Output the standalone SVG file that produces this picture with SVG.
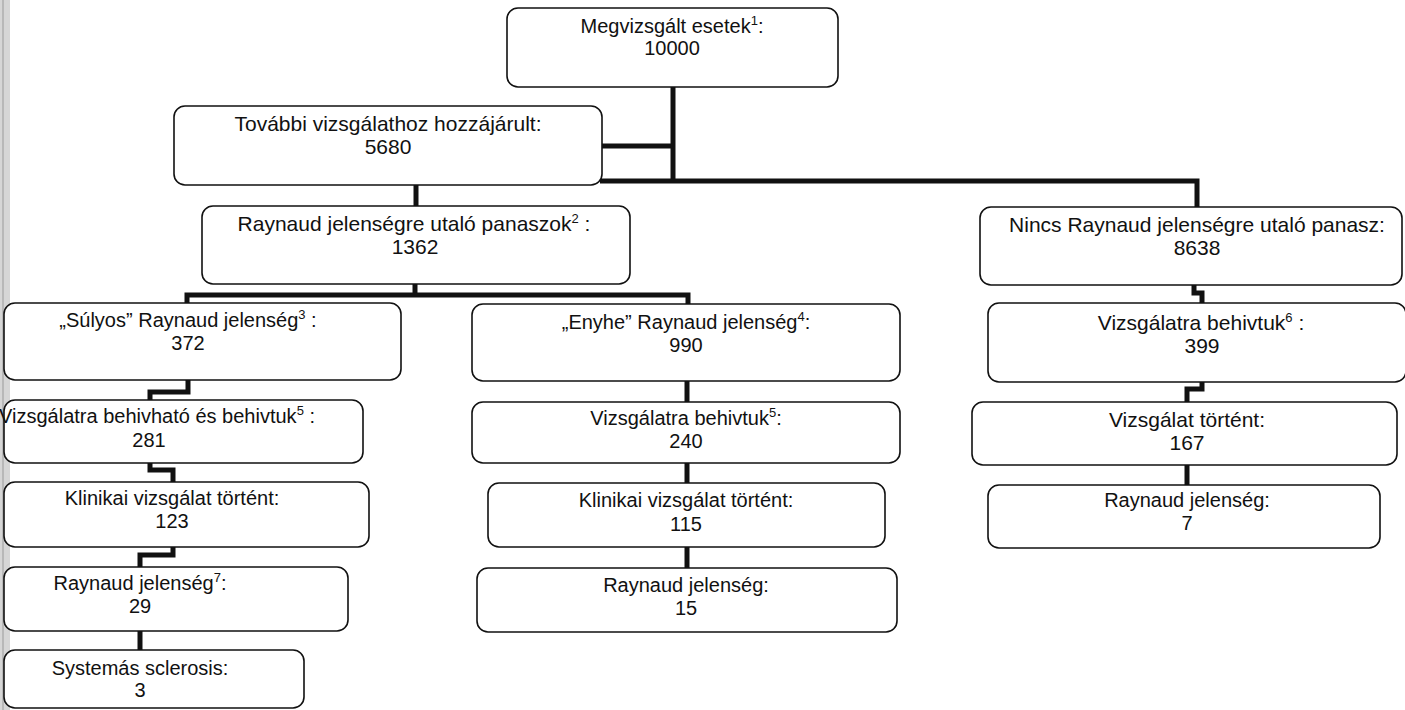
<svg xmlns="http://www.w3.org/2000/svg" width="1405" height="710" viewBox="0 0 1405 710">
<style>
.box{fill:#fff;stroke:#111;stroke-width:1.6}
.t{font-family:"Liberation Sans",Arial,sans-serif;font-size:20px;fill:#111;text-anchor:middle}
.l{font-size:21px}
.sup{font-size:13px}
.c{fill:none;stroke:#111;stroke-width:5;stroke-linejoin:miter;stroke-linecap:butt}
</style>
<rect x="0" y="0" width="1405" height="710" fill="#fff"/>
<g id="scan-edge">
<rect x="0" y="0" width="10" height="710" fill="#d6d6d6"/>
<line x1="3" y1="0" x2="3" y2="710" stroke="#9a9a9a" stroke-width="1"/>
</g>
<g id="connectors">
<path class="c" d="M673,87 V181"/>
<path class="c" d="M602,146 H673"/>
<path class="c" d="M600,181 H1197 V207"/>
<path class="c" d="M416,185 V206"/>
<path class="c" d="M415,284 V295"/>
<path class="c" d="M187,303 V295 H688 V304"/>
<path class="c" d="M188,380 V392 H150 V400"/>
<path class="c" d="M150,463 V470 H173 V482"/>
<path class="c" d="M173,547 V555 H140 V567"/>
<path class="c" d="M140,631 V650"/>
<path class="c" d="M687,381 V402"/>
<path class="c" d="M687,463 V483"/>
<path class="c" d="M687,547 V568"/>
<path class="c" d="M1194,285 V293 H1202 V303"/>
<path class="c" d="M1202,382 V389 H1187 V402"/>
<path class="c" d="M1187,465 V485"/>
</g>
<g id="n-megvizsgalt">
<rect class="box" x="507" y="8" width="331" height="79" rx="11"/>
<text class="t" x="672" y="33">Megvizsgált esetek<tspan class="sup" dy="-8">1</tspan><tspan dy="8">:</tspan></text>
<text class="t" x="672" y="55">10000</text>
</g>
<g id="n-tovabbi">
<rect class="box" x="174" y="106" width="428" height="79" rx="11"/>
<text class="t l" x="388" y="131">További vizsgálathoz hozzájárult:</text>
<text class="t l" x="388" y="154">5680</text>
</g>
<g id="n-panaszok">
<rect class="box" x="202" y="206" width="428" height="78" rx="11"/>
<text class="t l" x="414" y="231">Raynaud jelenségre utaló panaszok<tspan class="sup" dy="-8">2</tspan><tspan dy="8"> :</tspan></text>
<text class="t l" x="415" y="254">1362</text>
</g>
<g id="n-nincs">
<rect class="box" x="980" y="207" width="422" height="78" rx="11"/>
<text class="t l" x="1197" y="232">Nincs Raynaud jelenségre utaló panasz:</text>
<text class="t l" x="1197" y="255">8638</text>
</g>
<g id="n-sulyos">
<rect class="box" x="4" y="303" width="397" height="77" rx="11"/>
<text class="t" x="188" y="327">„Súlyos” Raynaud jelenség<tspan class="sup" dy="-8">3</tspan><tspan dy="8"> :</tspan></text>
<text class="t" x="188" y="350">372</text>
</g>
<g id="n-behivhato">
<rect class="box" x="4" y="400" width="359" height="63" rx="11"/>
<text class="t" x="157" y="423">Vizsgálatra behivható és behivtuk<tspan class="sup" dy="-8">5</tspan><tspan dy="8"> :</tspan></text>
<text class="t" x="149" y="447">281</text>
</g>
<g id="n-klinikai-123">
<rect class="box" x="4" y="482" width="365" height="65" rx="11"/>
<text class="t" x="172" y="505">Klinikai vizsgálat történt:</text>
<text class="t" x="172" y="528">123</text>
</g>
<g id="n-raynaud-29">
<rect class="box" x="4" y="567" width="344" height="64" rx="11"/>
<text class="t" x="140" y="590">Raynaud jelenség<tspan class="sup" dy="-8">7</tspan><tspan dy="8">:</tspan></text>
<text class="t" x="140" y="613">29</text>
</g>
<g id="n-systemas">
<rect class="box" x="4" y="650" width="300" height="58" rx="11"/>
<text class="t" x="140" y="675">Systemás sclerosis:</text>
<text class="t" x="140" y="697">3</text>
</g>
<g id="n-enyhe">
<rect class="box" x="472" y="304" width="428" height="77" rx="11"/>
<text class="t" x="686" y="329">„Enyhe” Raynaud jelenség<tspan class="sup" dy="-8">4</tspan><tspan dy="8">:</tspan></text>
<text class="t" x="686" y="352">990</text>
</g>
<g id="n-behivtuk5">
<rect class="box" x="472" y="402" width="428" height="61" rx="11"/>
<text class="t" x="686" y="425">Vizsgálatra behivtuk<tspan class="sup" dy="-8">5</tspan><tspan dy="8">:</tspan></text>
<text class="t" x="686" y="448">240</text>
</g>
<g id="n-klinikai-115">
<rect class="box" x="488" y="483" width="397" height="64" rx="11"/>
<text class="t" x="686" y="507">Klinikai vizsgálat történt:</text>
<text class="t" x="686" y="531">115</text>
</g>
<g id="n-raynaud-15">
<rect class="box" x="477" y="568" width="420" height="64" rx="11"/>
<text class="t" x="686" y="592">Raynaud jelenség:</text>
<text class="t" x="686" y="615">15</text>
</g>
<g id="n-behivtuk6">
<rect class="box" x="988" y="303" width="418" height="79" rx="11"/>
<text class="t l" x="1201" y="330">Vizsgálatra behivtuk<tspan class="sup" dy="-8">6</tspan><tspan dy="8"> :</tspan></text>
<text class="t l" x="1202" y="353">399</text>
</g>
<g id="n-vizsgalat-167">
<rect class="box" x="972" y="402" width="425" height="63" rx="11"/>
<text class="t l" x="1187" y="427">Vizsgálat történt:</text>
<text class="t l" x="1187" y="450">167</text>
</g>
<g id="n-raynaud-7">
<rect class="box" x="988" y="485" width="392" height="63" rx="11"/>
<text class="t" x="1187" y="507">Raynaud jelenség:</text>
<text class="t" x="1187" y="530">7</text>
</g>
</svg>
